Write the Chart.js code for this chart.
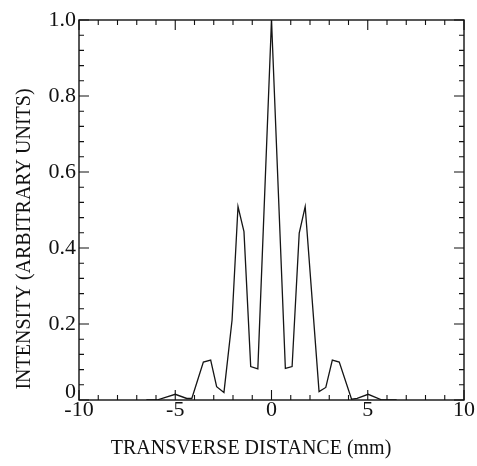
<!DOCTYPE html>
<html>
<head>
<meta charset="utf-8">
<script src="https://cdn.jsdelivr.net/npm/chart.js@4/dist/chart.umd.min.js"></script>
<style>
  html, body { margin: 0; padding: 0; background: #fff; }
  #wrap { width: 477px; height: 466px; }
</style>
</head>
<body>
<div id="wrap"><canvas id="chart" width="477" height="466"></canvas></div>
<script>
// transverse distance (mm) and intensity
const xValues = [-6.5, -5.95, -5.0, -4.4, -4.14, -3.54, -3.16, -2.85, -2.47, -2.05, -1.74, -1.43, -1.08, -0.71, 0,
                 0.72, 1.07, 1.44, 1.75, 2.47, 2.82, 3.16, 3.52, 4.16, 4.45, 5.02, 5.74, 6.5];
const yValues = [0, 0, 0.015, 0.004, 0.004, 0.100, 0.105, 0.035, 0.020, 0.210, 0.509, 0.443, 0.088, 0.082, 1.0,
                 0.083, 0.088, 0.439, 0.509, 0.022, 0.033, 0.105, 0.100, 0.002, 0.004, 0.015, 0, 0];
const xTickLabels = [-10, -5, 0, 5, 10];
const yTickLabels = ["0", "0.2", "0.4", "0.6", "0.8", "1.0"];

const SERIF = "'Liberation Serif', 'DejaVu Serif', serif";

const points = xValues.map((x, i) => ({ x: x, y: yValues[i] }));

// frame, inward ticks on all four sides, axis titles
const framePlugin = {
    id: "frame",
    afterDraw(chart) {
        const ctx = chart.ctx;
        const a = chart.chartArea;
        const xs = chart.scales.x;
        const ys = chart.scales.y;
        ctx.save();
        ctx.strokeStyle = "#111";
        ctx.lineWidth = 1.4;
        ctx.strokeRect(a.left, a.top, a.right - a.left, a.bottom - a.top);

        ctx.lineWidth = 1.1;
        ctx.beginPath();
        for (let v = -10; v <= 10; v++) {
            const px = xs.getPixelForValue(v);
            const len = (v % 5 === 0) ? 10 : 5;
            ctx.moveTo(px, a.bottom); ctx.lineTo(px, a.bottom - len);
            ctx.moveTo(px, a.top); ctx.lineTo(px, a.top + len);
        }
        for (let k = 0; k <= 25; k++) {
            const v = k * 0.04;
            const py = ys.getPixelForValue(v);
            const len = (k % 5 === 0) ? 10 : 5;
            ctx.moveTo(a.left, py); ctx.lineTo(a.left + len, py);
            ctx.moveTo(a.right, py); ctx.lineTo(a.right - len, py);
        }
        ctx.stroke();

        ctx.fillStyle = "#111";
        ctx.font = "20px " + SERIF;
        ctx.textAlign = "center";
        ctx.textBaseline = "middle";
        ctx.fillText("TRANSVERSE DISTANCE (mm)", 251, 449);

        ctx.translate(25, 239);
        ctx.rotate(-Math.PI / 2);
        ctx.fillText("INTENSITY (ARBITRARY UNITS)", 0, 0);
        ctx.restore();
    }
};

new Chart(document.getElementById("chart"), {
    type: "scatter",
    data: {
        datasets: [{
            data: points,
            showLine: true,
            borderColor: "#151515",
            borderWidth: 1.3,
            pointRadius: 0,
            tension: 0,
            fill: false
        }]
    },
    options: {
        responsive: false,
        animation: false,
        layout: { padding: { top: 20, right: 11, left: 0, bottom: 0 } },
        plugins: {
            legend: { display: false },
            tooltip: { enabled: false }
        },
        scales: {
            x: {
                type: "linear",
                min: -10,
                max: 10,
                grid: { display: false, drawTicks: false },
                border: { display: false },
                afterBuildTicks: (scale) => { scale.ticks = xTickLabels.map(v => ({ value: v })); },
                ticks: {
                    color: "#111",
                    padding: 2,
                    maxRotation: 0,
                    font: { family: SERIF, size: 22, lineHeight: 0.75 },
                    callback: (v) => String(v)
                },
                afterFit: (scale) => { scale.height = 66; }
            },
            y: {
                min: 0,
                max: 1,
                grid: { display: false, drawTicks: false },
                border: { display: false },
                afterBuildTicks: (scale) => { scale.ticks = yTickLabels.map(s => ({ value: parseFloat(s) })); },
                ticks: {
                    color: "#111",
                    padding: 3,
                    font: { family: SERIF, size: 22, lineHeight: 0.75 },
                    callback: (v, i) => (i === 0 ? ["0", ""] : yTickLabels[i])
                },
                afterFit: (scale) => { scale.width = 79; }
            }
        }
    },
    plugins: [framePlugin]
});
</script>
</body>
</html>
